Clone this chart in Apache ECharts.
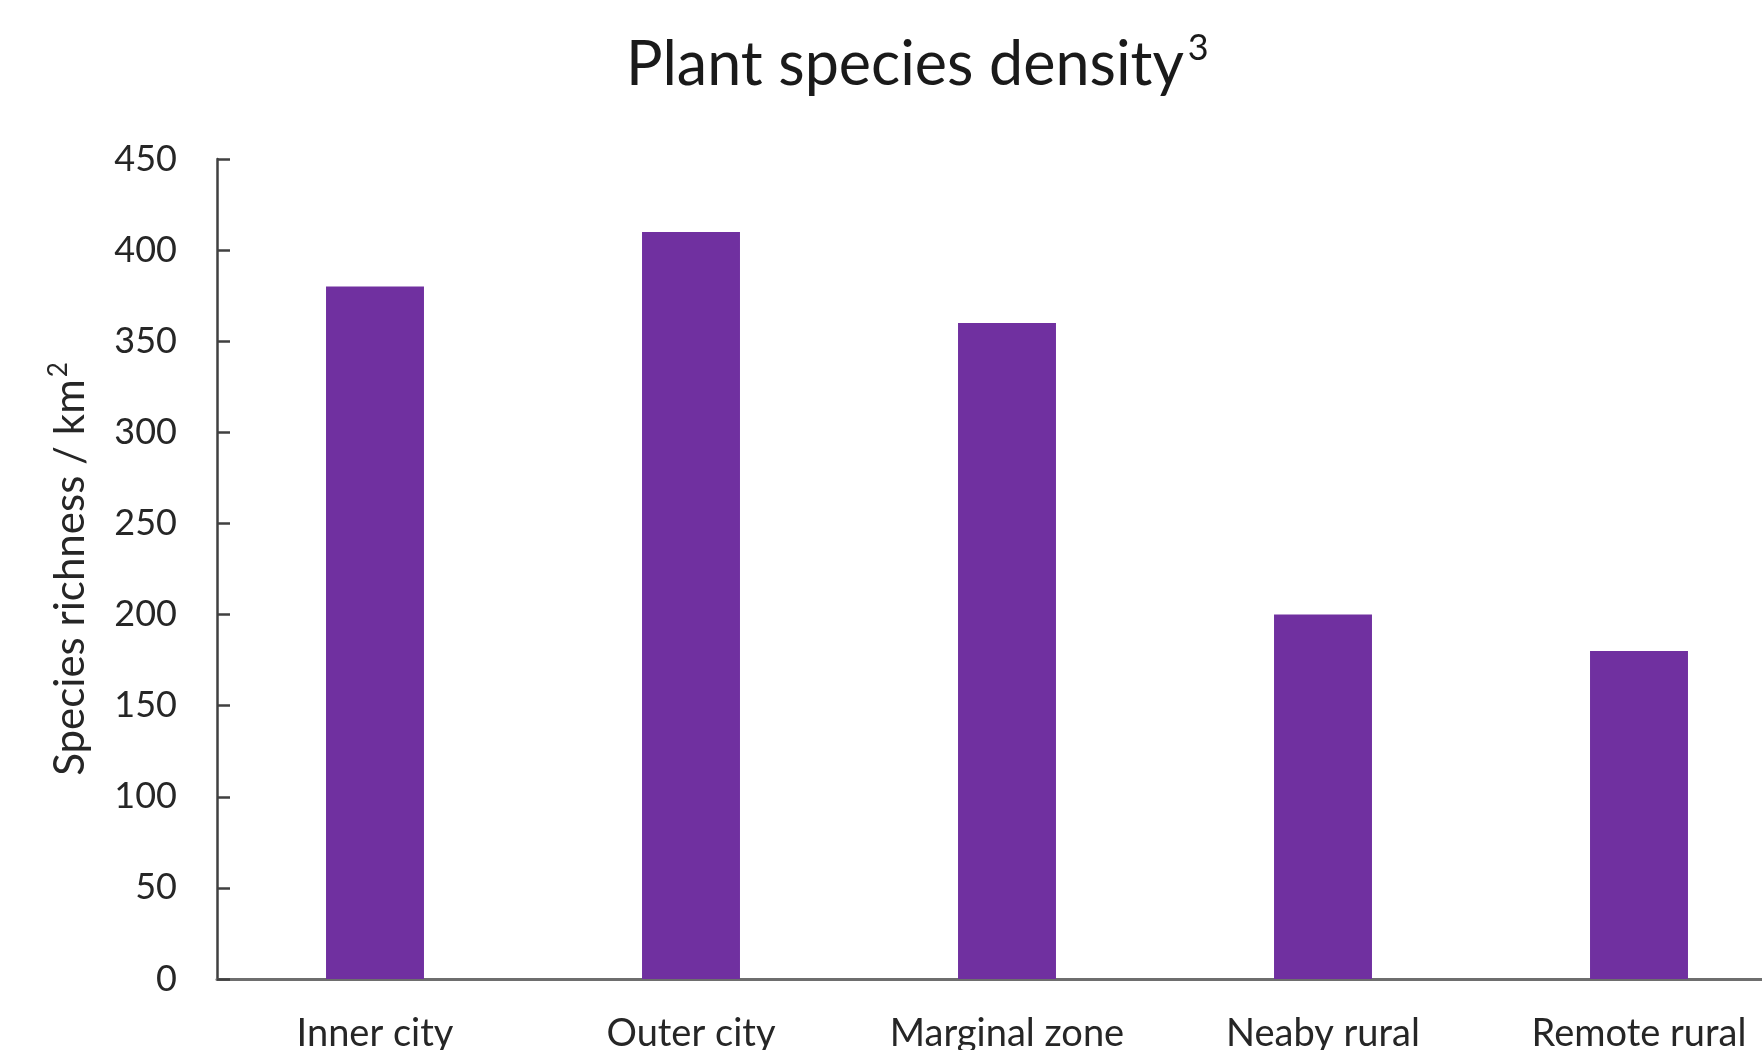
<!DOCTYPE html>
<html>
<head>
<meta charset="utf-8">
<script src="https://cdn.jsdelivr.net/npm/echarts@6/dist/echarts.min.js"></script>
<style>
  html, body { margin: 0; padding: 0; background: #ffffff; overflow: hidden; }
  /* the plot runs a little past the right edge of the window */
  #chart { width: 1797px; height: 1050px; }
</style>
</head>
<body>
<div id="chart"></div>
<script>
// Plant species density along an urban–rural gradient
const categories = ['Inner city', 'Outer city', 'Marginal zone', 'Neaby rural', 'Remote rural'];
const richness = [380, 410, 360, 200, 180];
const yTicks = { min: 0, max: 450, step: 50 };

const FONT = 'Lato, "Open Sans", sans-serif';
const INK = '#262626';
const chart = echarts.init(document.getElementById('chart'), null, { renderer: 'canvas' });

chart.setOption({
  backgroundColor: '#ffffff',
  animation: false,
  title: {
    text: '{m|Plant species density}{s|3}',
    left: 621,
    top: 25,
    textStyle: {
      fontFamily: FONT,
      fontWeight: 'normal',
      fontSize: 61,
      color: '#1a1a1a',
      rich: {
        m: { fontFamily: FONT, fontSize: 61, color: '#1a1a1a', lineHeight: 70 },
        s: { fontFamily: FONT, fontSize: 36, color: '#1a1a1a', verticalAlign: 'top', padding: [0, 0, 0, 4] }
      }
    }
  },
  // keep the plot rectangle fixed; the category labels may run off the bottom edge
  grid: { left: 217, right: 0, top: 159, bottom: 71, containLabel: false, outerBoundsMode: 'none' },
  xAxis: {
    type: 'category',
    data: categories,
    axisLine: { lineStyle: { color: '#6e6e6e', width: 3 } },
    axisTick: { show: false },
    axisLabel: { fontFamily: FONT, fontSize: 38, color: INK, margin: 36, interval: 0 }
  },
  yAxis: {
    type: 'value',
    min: yTicks.min,
    max: yTicks.max,
    interval: yTicks.step,
    name: '{a|Species richness / km}{b|2}',
    nameLocation: 'middle',
    nameGap: 123,
    nameTextStyle: {
      fontFamily: FONT,
      fontSize: 42,
      color: INK,
      rich: {
        a: { fontFamily: FONT, fontSize: 42, color: INK, lineHeight: 48 },
        b: { fontFamily: FONT, fontSize: 26, color: INK, verticalAlign: 'top', padding: [0, 0, 0, 2] }
      }
    },
    axisLine: { show: true, lineStyle: { color: '#404040', width: 2.5 } },
    axisTick: { show: true, inside: true, length: 13, lineStyle: { color: '#404040', width: 2.5 } },
    axisLabel: { fontFamily: FONT, fontSize: 36, color: INK, margin: 40 },
    splitLine: { show: false }
  },
  series: [{
    type: 'bar',
    data: richness,
    barWidth: '31%',
    itemStyle: { color: '#7030A0' }
  }]
});
</script>
</body>
</html>
